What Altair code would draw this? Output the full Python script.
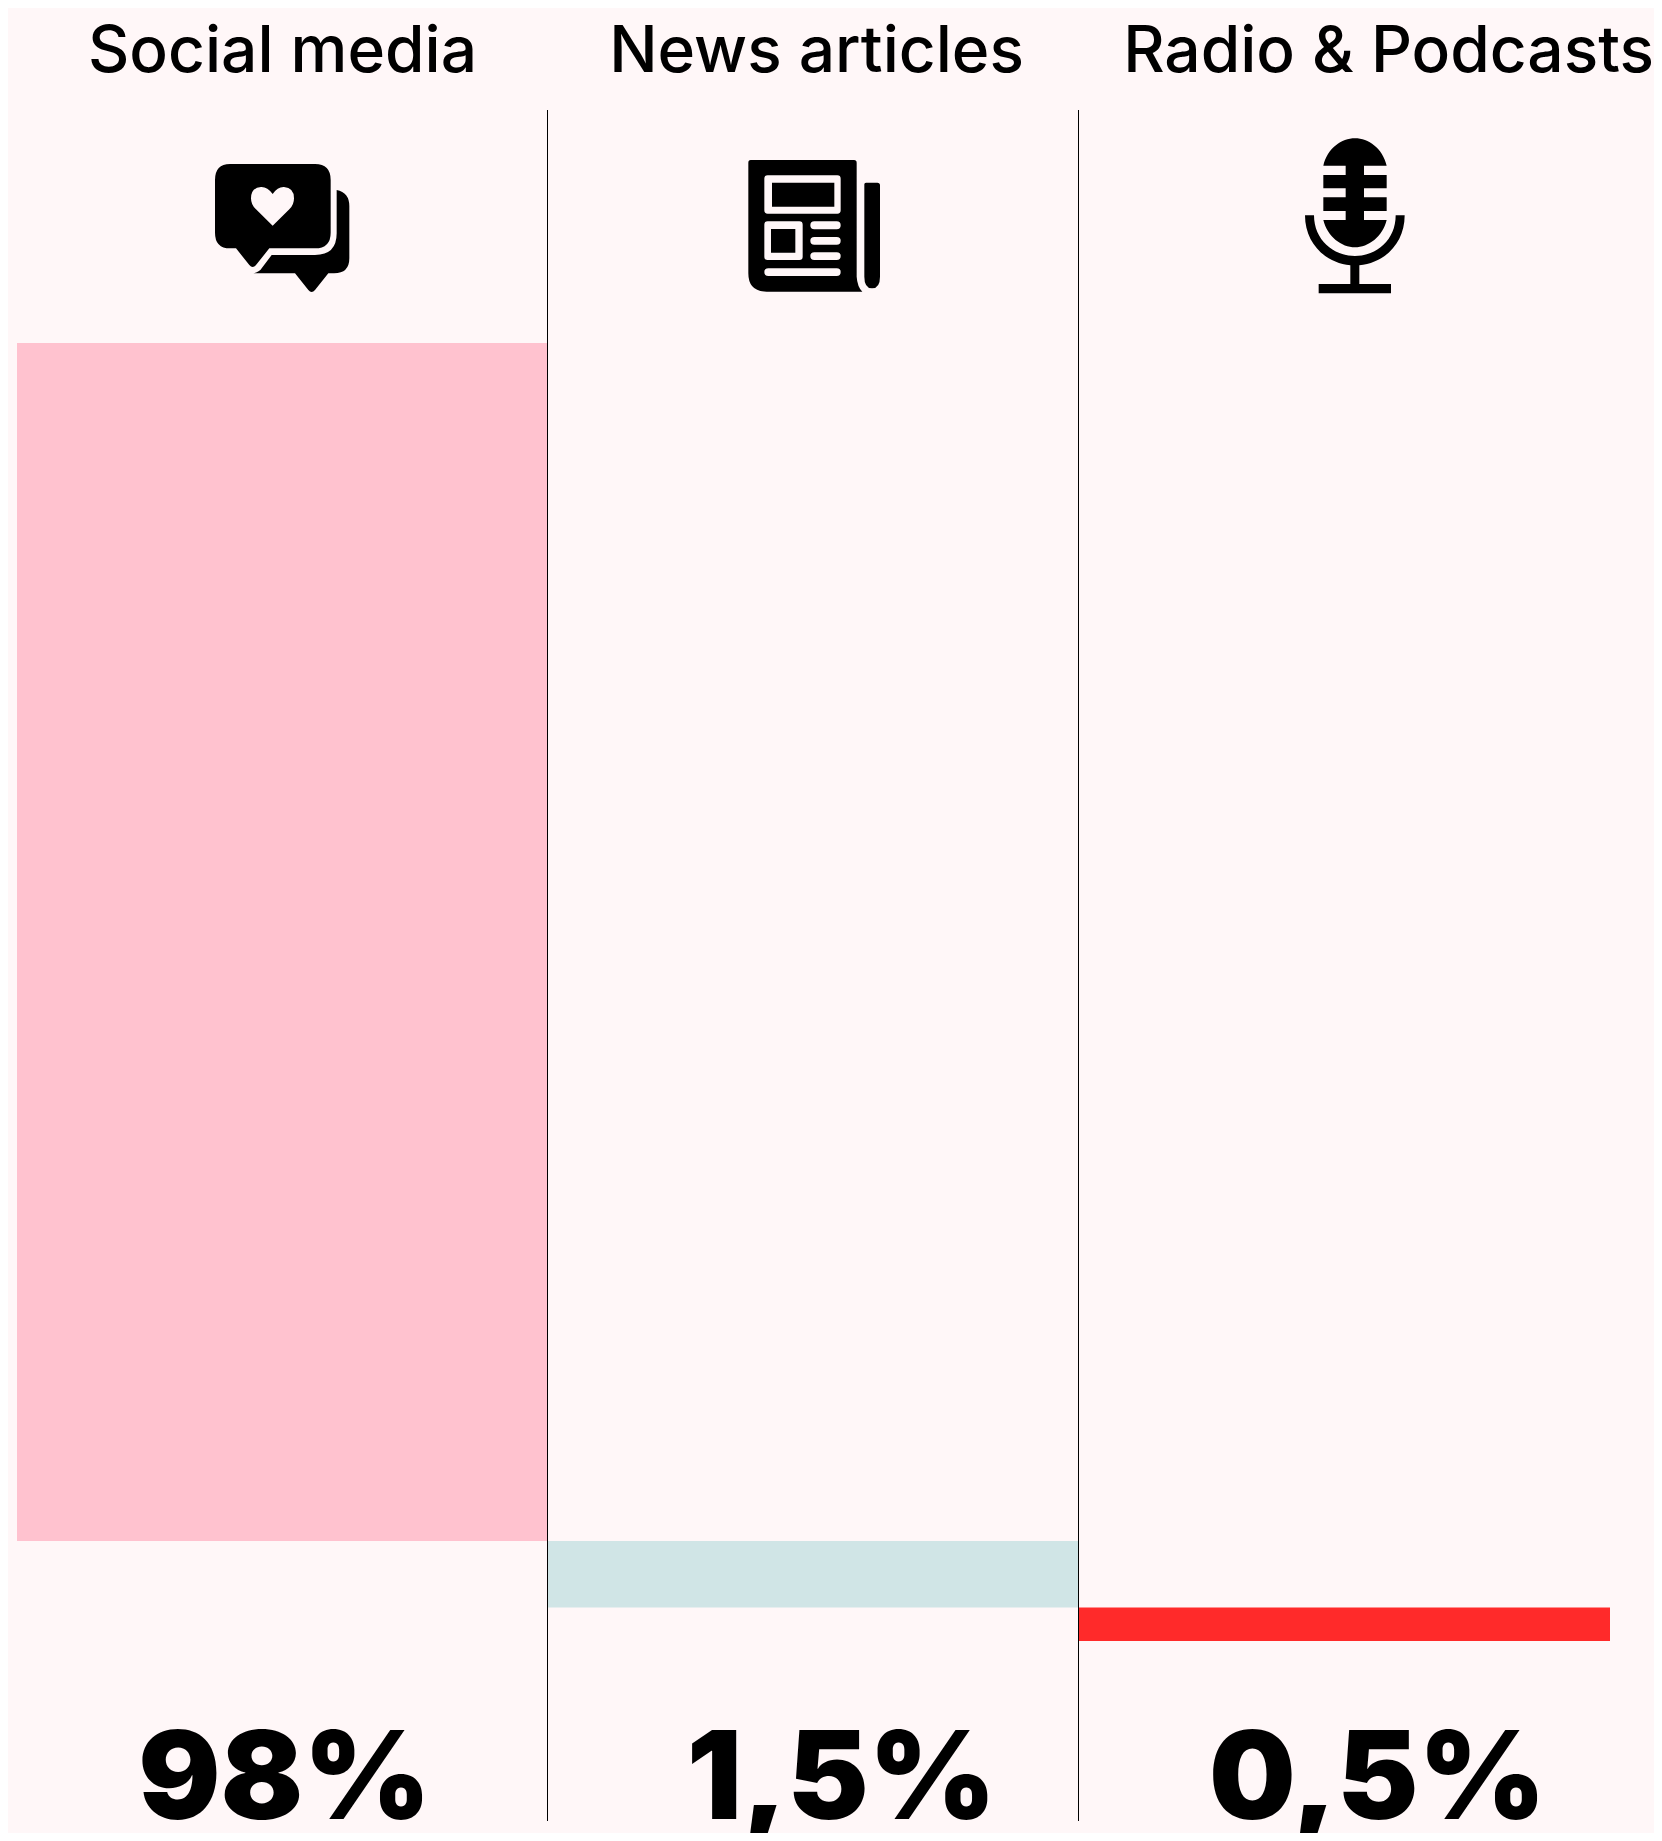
import re
import altair as alt
import pandas as pd

categories = ["Social media", "News articles", "Radio & Podcasts"]
shares = [98, 1.5, 0.5]
value_labels = ["98%", "1,5%", "0,5%"]
bar_colors = ["#FFC2CF", "#D0E5E6", "#FF2A2A"]

BG = "#FFF7F8"
M = 8  # page margin, subtracted from positions measured on the full picture

heart_icon = (
    "M150 102 L405 102 Q452 102 452 150 L452 308 Q452 355 405 355 L268 355 L228 405 Q218 417 208 405 L168 355 L150 355 Q105 355 105 308 L105 150 Q105 102 150 102 Z "
    "M278 192 Q262 170 243 171 Q213 173 213 205 Q213 225 228 238 L278 287 L328 238 Q342 225 342 205 Q342 173 312 171 Q293 170 278 192 Z "
    "M470 180 Q508 188 508 228 L508 385 Q508 430 462 430 L445 430 L405 480 Q395 492 385 480 L345 430 L220 430 Q240 425 245 415 L275 375 L405 375 Q470 375 470 310 Z"
)
news_icon = (
    "M92 90 L402 90 Q410 90 410 98 L410 440 Q412 470 427 485 L140 485 Q85 485 85 430 L85 98 Q85 90 92 90 Z "
    "M143 136 Q133 136 133 146 L133 241 Q133 251 143 251 L352 251 Q362 251 362 241 L362 146 Q362 136 352 136 Z "
    "M156 158 L343 158 L343 230 L156 230 Z "
    "M143 274 Q133 274 133 284 L133 380 Q133 390 143 390 L238 390 Q248 390 248 380 L248 284 Q248 274 238 274 Z "
    "M153 297 L226 297 L226 368 L153 368 Z "
    "M283 274 Q271 274 271 286 Q271 298 283 298 L350 298 Q362 298 362 286 Q362 274 350 274 Z "
    "M283 321 Q271 321 271 332 Q271 344 283 344 L350 344 Q362 344 362 332 Q362 321 350 321 Z "
    "M283 367 Q271 367 271 378 Q271 390 283 390 L350 390 Q362 390 362 378 Q362 367 350 367 Z "
    "M145 415 Q133 415 133 426 Q133 438 145 438 L350 438 Q362 438 362 426 Q362 415 350 415 Z "
    "M438 158 L472 158 Q480 158 480 166 L480 440 Q480 475 456 475 Q433 475 433 440 L433 163 Q433 158 438 158 Z"
)
mic_icon = (
    "M160 137 C172 85 215 55 255 55 C295 55 338 85 350 137 L282 137 L282 165 L350 165 L350 205 L282 205 L282 232 L350 232 L350 273 L282 273 L282 300 L350 300 "
    "C338 350 295 382 255 382 C215 382 172 350 160 300 L227 300 L227 273 L160 273 L160 232 L227 232 L227 205 L160 205 L160 165 L227 165 L227 137 Z "
    "M105 286 L132 286 C132 360 190 408 255 408 C320 408 377 360 377 286 L404 286 C404 370 345 428 268 436 L268 492 L363 492 L363 520 L146 520 L146 492 L241 492 L241 436 C165 428 105 370 105 286 Z"
)
icons = [(heart_icon, 180, 130), (news_icon, 720, 130), (mic_icon, 1270, 120)]

HALF = 300.0
def unit_path(path):
    return re.sub(r"-?\d+(?:\.\d+)?", lambda m: f"{(float(m.group(0)) - HALF) / HALF:.4f}", path)

upper = [100.0, 2.0, 0.5]
lower = [2.0, 0.5, 0.0]

df = pd.DataFrame({"category": categories, "share": shares, "label": value_labels,
                   "color": bar_colors, "lower": lower, "upper": upper})

xs = alt.Scale(domain=categories, range=[17 - M, 1610 - M], paddingInner=0, paddingOuter=0)
ys = alt.Scale(domain=[0, 0.5, 2, 100], range=[1641 - M, 1607.5 - M, 1541 - M, 343 - M], zero=False, nice=False)
X = alt.X("category:N", scale=xs, axis=None, sort=categories)

bars = alt.Chart(df).mark_bar(cornerRadius=0).encode(
    x=X,
    y=alt.Y("lower:Q", scale=ys, axis=None),
    y2="upper:Q",
    color=alt.Color("color:N", scale=None),
)

rules = alt.Chart(df[df.category != categories[0]]).mark_rule(color="#000000", strokeWidth=1, xOffset=-0.5).encode(
    x=alt.X("category:N", scale=xs, axis=None, sort=categories, bandPosition=0),
    y=alt.value(110 - M), y2=alt.value(1821 - M),
)

layers = [bars, rules]
head_dx = [0, 3, 44]
val_dx = [2, 28, 33]
for i, cat in enumerate(categories):
    row = df[df.category == cat]
    layers.append(alt.Chart(row).mark_text(font="Inter", fontSize=64, fontWeight=500, color="#000000",
                                           align="center", baseline="alphabetic", dx=head_dx[i]).encode(
        x=X, y=alt.value(72 - M), text="category:N"))
    layers.append(alt.Chart(row).mark_text(font="Inter", fontSize=122, fontWeight=900, color="#000000",
                                           align="center", baseline="alphabetic", dx=val_dx[i]).encode(
        x=X, y=alt.value(1819 - M), text="label:N"))
    path, ox, oy = icons[i]
    layers.append(alt.Chart(row).mark_point(shape=unit_path(path), filled=True, opacity=1, color="#000000",
                                            size=(2 * HALF / 3) ** 2, strokeWidth=0).encode(
        x=alt.value(ox - M + HALF / 3), y=alt.value(oy - M + HALF / 3)))

chart = alt.layer(*layers).properties(
    width=1646, height=1825, background=BG, padding=0,
    autosize=alt.AutoSizeParams(type="none"),
).configure_view(stroke=None)

chart.save("out.html", embed_options={"renderer": "svg", "actions": False})
